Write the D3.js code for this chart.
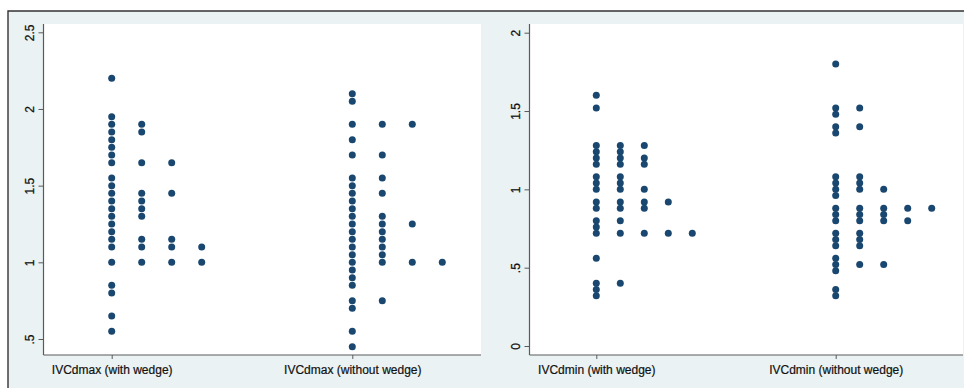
<!DOCTYPE html>
<html>
<head>
<meta charset="utf-8">
<script src="https://cdn.jsdelivr.net/npm/d3@7"></script>
<style>
  html, body { margin: 0; padding: 0; background: #fff; }
  svg { display: block; }
  text { font-family: "Liberation Sans", Arial, Helvetica, sans-serif; fill: #111; }
</style>
</head>
<body>
<svg id="chart" width="964" height="388"></svg>
<script>
// ---- Data (repeated values = stacked dots) ----
const leftCategories = ["IVCdmax (with wedge)", "IVCdmax (without wedge)"];
const rightCategories = ["IVCdmin (with wedge)", "IVCdmin (without wedge)"];

const leftTicks = [0.5, 1, 1.5, 2, 2.5];
const leftTickLabels = [".5", "1", "1.5", "2", "2.5"];
const rightTicks = [0, 0.5, 1, 1.5, 2];
const rightTickLabels = ["0", ".5", "1", "1.5", "2"];

const ivcdmaxWith = [
  2.2, 1.95, 1.9, 1.9, 1.85, 1.85, 1.8, 1.75, 1.7, 1.65, 1.65, 1.65,
  1.55, 1.5, 1.45, 1.45, 1.45, 1.4, 1.4, 1.35, 1.35, 1.3, 1.3, 1.25, 1.2,
  1.15, 1.15, 1.15, 1.1, 1.1, 1.1, 1.1, 1.0, 1.0, 1.0, 1.0,
  0.85, 0.8, 0.65, 0.55
];
const ivcdmaxWithout = [
  2.1, 2.05, 1.9, 1.9, 1.9, 1.8, 1.7, 1.7, 1.55, 1.55, 1.5, 1.45, 1.45,
  1.4, 1.35, 1.3, 1.3, 1.25, 1.25, 1.25, 1.2, 1.2, 1.15, 1.15, 1.1, 1.1,
  1.05, 1.05, 1.0, 1.0, 1.0, 1.0, 0.95, 0.9, 0.85, 0.75, 0.75, 0.7, 0.55, 0.45
];
const ivcdminWith = [
  1.6, 1.52, 1.28, 1.28, 1.28, 1.24, 1.24, 1.2, 1.2, 1.2, 1.16, 1.16, 1.16,
  1.08, 1.08, 1.04, 1.04, 1.0, 1.0, 1.0, 0.92, 0.92, 0.92, 0.92,
  0.88, 0.88, 0.88, 0.8, 0.8, 0.76, 0.72, 0.72, 0.72, 0.72, 0.72,
  0.56, 0.4, 0.4, 0.36, 0.32
];
const ivcdminWithout = [
  1.8, 1.52, 1.52, 1.48, 1.4, 1.4, 1.36, 1.08, 1.08, 1.04, 1.04, 1.0, 1.0, 1.0,
  0.96, 0.88, 0.88, 0.88, 0.88, 0.88, 0.84, 0.84, 0.84, 0.8, 0.8, 0.8, 0.8,
  0.72, 0.72, 0.68, 0.68, 0.64, 0.64, 0.56, 0.52, 0.52, 0.52, 0.48, 0.36, 0.32
];

// ---- Drawing ----
const svg = d3.select("#chart");
const BG = "#eaf2f3";
const DOT = "#1a476f";
const AXIS = "#5a5a5a";
const TXT = "#111";

// graph region background and frame
svg.append("rect").attr("x", 8).attr("y", 11).attr("width", 956).attr("height", 377).attr("fill", BG);
svg.append("path").attr("d", "M8,388 V11 H964").attr("fill", "none").attr("stroke", "#333").attr("stroke-width", 1.4);

function panel(cfg) {
  const g = svg.append("g");
  const top = 24, bottom = 355;
  g.append("rect").attr("x", cfg.x0).attr("y", top).attr("width", cfg.x1 - cfg.x0).attr("height", bottom - top).attr("fill", "#fff");

  const y = d3.scaleLinear().domain(cfg.domain).range(cfg.range);
  const x = d3.scalePoint().domain(cfg.categories).range(cfg.catRange);

  // y axis
  const yAxis = d3.axisLeft(y).tickValues(cfg.ticks).tickFormat((d, i) => cfg.tickLabels[i]).tickSize(5).tickSizeOuter(0);
  const ya = g.append("g").attr("transform", `translate(${cfg.x0},0)`).call(yAxis);
  ya.select(".domain").remove();
  ya.selectAll(".tick line").attr("stroke", AXIS);
  ya.selectAll(".tick text")
    .attr("x", null).attr("dy", null)
    .attr("text-anchor", "middle")
    .attr("transform", "translate(-9.5,0) rotate(-90)")
    .style("font-size", "12px")
    .style("font-family", "'Liberation Sans', Arial, sans-serif")
    .attr("fill", TXT).attr("stroke", TXT).attr("stroke-width", 0.25);
  g.append("line").attr("x1", cfg.x0).attr("x2", cfg.x0).attr("y1", top).attr("y2", bottom).attr("stroke", AXIS).attr("stroke-width", 1.2);

  // x axis
  const xAxis = d3.axisBottom(x).tickSize(4).tickSizeOuter(0);
  const xa = g.append("g").attr("transform", `translate(0,${bottom})`).call(xAxis);
  xa.select(".domain").remove();
  xa.selectAll(".tick line").attr("stroke", AXIS);
  xa.selectAll(".tick text")
    .attr("y", 19).attr("dy", null)
    .style("font-size", "12px")
    .style("font-family", "'Liberation Sans', Arial, sans-serif")
    .attr("fill", TXT).attr("stroke", TXT).attr("stroke-width", 0.2);
  g.append("line").attr("x1", cfg.x0).attr("x2", cfg.x1).attr("y1", bottom).attr("y2", bottom).attr("stroke", AXIS).attr("stroke-width", 1.2);

  // dots: stack repeated values horizontally to the right of category position
  cfg.series.forEach((vals, si) => {
    const counts = new Map();
    const pts = vals.map(v => {
      const k = v.toFixed(3);
      const idx = counts.get(k) || 0;
      counts.set(k, idx + 1);
      return { v, idx, cat: cfg.categories[si] };
    });
    g.append("g").selectAll("circle").data(pts).join("circle")
      .attr("cx", d => x(d.cat) + d.idx * cfg.step)
      .attr("cy", d => y(d.v))
      .attr("r", 3.5)
      .attr("fill", DOT);
  });
}

panel({
  x0: 43.5, x1: 481,
  domain: [0.5, 2.5], range: [339, 32.3],
  ticks: leftTicks, tickLabels: leftTickLabels,
  categories: leftCategories, catRange: [111.7, 352.3],
  series: [ivcdmaxWith, ivcdmaxWithout],
  step: 30
});

panel({
  x0: 529.5, x1: 963,
  domain: [0, 2], range: [346, 32.7],
  ticks: rightTicks, tickLabels: rightTickLabels,
  categories: rightCategories, catRange: [596.3, 835.7],
  series: [ivcdminWith, ivcdminWithout],
  step: 24
});
</script>
</body>
</html>
